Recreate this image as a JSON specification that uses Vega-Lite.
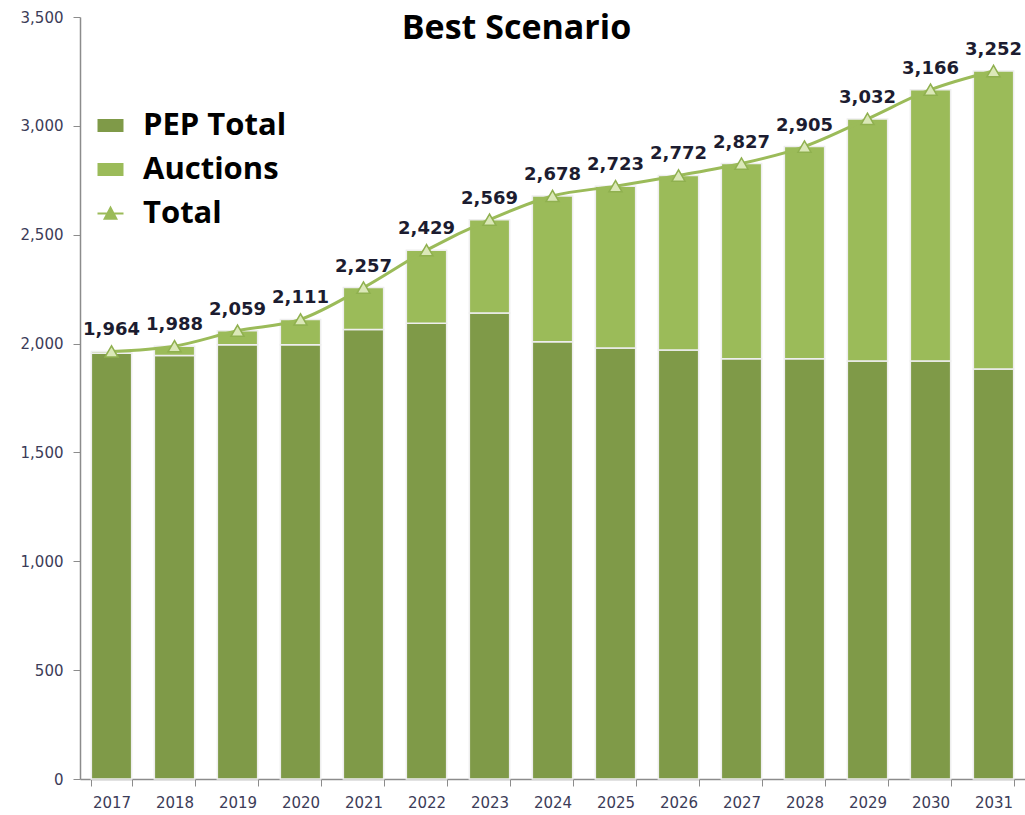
{
  "$schema": "https://vega.github.io/schema/vega-lite/v6.json",
  "width": 945,
  "height": 762,
  "autosize": {"type": "none"},
  "padding": {"left": 80, "top": 17, "right": 0, "bottom": 36},
  "background": "white",
  "config": {
    "view": {"stroke": null},
    "font": "DejaVu Sans",
    "axisY": {
      "grid": false,
      "tickSize": 7,
      "tickColor": "#8c8c8c",
      "domainColor": "#8c8c8c",
      "domainWidth": 1.5,
      "labelPadding": 10,
      "labelFont": "DejaVu Sans",
      "labelFontSize": 15,
      "labelColor": "#3c3c58"
    }
  },
  "title": {
    "text": "Best Scenario",
    "font": "Open Sans",
    "fontSize": 34,
    "fontWeight": "bold",
    "color": "#000000",
    "anchor": "middle",
    "frame": "group",
    "dx": -36,
    "offset": -63,
    "baseline": "alphabetic"
  },
  "data": {
    "values": [
      {"year": "2017", "PEP Total": 1955, "Auctions": 9, "Total": 1964},
      {"year": "2018", "PEP Total": 1945, "Auctions": 43, "Total": 1988},
      {"year": "2019", "PEP Total": 1995, "Auctions": 64, "Total": 2059},
      {"year": "2020", "PEP Total": 1995, "Auctions": 116, "Total": 2111},
      {"year": "2021", "PEP Total": 2065, "Auctions": 192, "Total": 2257},
      {"year": "2022", "PEP Total": 2093, "Auctions": 336, "Total": 2429},
      {"year": "2023", "PEP Total": 2140, "Auctions": 429, "Total": 2569},
      {"year": "2024", "PEP Total": 2008, "Auctions": 670, "Total": 2678},
      {"year": "2025", "PEP Total": 1980, "Auctions": 743, "Total": 2723},
      {"year": "2026", "PEP Total": 1970, "Auctions": 802, "Total": 2772},
      {"year": "2027", "PEP Total": 1930, "Auctions": 897, "Total": 2827},
      {"year": "2028", "PEP Total": 1930, "Auctions": 975, "Total": 2905},
      {"year": "2029", "PEP Total": 1920, "Auctions": 1112, "Total": 3032},
      {"year": "2030", "PEP Total": 1920, "Auctions": 1246, "Total": 3166},
      {"year": "2031", "PEP Total": 1883, "Auctions": 1369, "Total": 3252}
    ]
  },
  "encoding": {
    "x": {
      "field": "year",
      "type": "nominal",
      "scale": {"paddingInner": 0.36, "paddingOuter": 0.18},
      "axis": {
        "title": null,
        "labelAngle": 0,
        "tickBand": "extent",
        "tickSize": 7,
        "tickColor": "#8c8c8c",
        "domainColor": "#8c8c8c",
        "domainWidth": 1.5,
        "labelPadding": 9,
        "labelFont": "DejaVu Sans",
        "labelFontSize": 15,
        "labelColor": "#3c3c58",
        "grid": false
      }
    }
  },
  "layer": [
    {
      "transform": [{"fold": ["PEP Total", "Auctions"], "as": ["series", "value"]}],
      "mark": {"type": "bar", "stroke": "#eeeeee", "strokeWidth": 1.5},
      "encoding": {
        "y": {
          "field": "value",
          "type": "quantitative",
          "stack": "zero",
          "scale": {"domain": [0, 3500], "nice": false},
          "axis": {"title": null, "values": [0, 500, 1000, 1500, 2000, 2500, 3000, 3500], "format": ",d"}
        },
        "color": {
          "field": "series",
          "type": "nominal",
          "scale": {"domain": ["PEP Total", "Auctions", "Total"], "range": ["#7f9a48", "#9bbb59", "#9bbb59"]},
          "legend": {
            "orient": "none",
            "legendX": 15,
            "legendY": 93,
            "title": null,
            "padding": 0,
            "labelFont": "Open Sans",
            "labelFontSize": 31,
            "labelFontWeight": "bold",
            "labelColor": "#000000",
            "labelOffset": 17,
            "labelLimit": 400,
            "rowPadding": 12,
            "symbolSize": 676,
            "symbolType": "M-1,-0.5H1V0.5H-1Z",
            "encoding": {
              "symbols": {
                "shape": {"value": {"signal": "datum.value === 'Total' ? 'M-1,0H1M-0.45,0.4L0,-0.45L0.45,0.4Z' : 'M-1,-0.5H1V0.5H-1Z'"}},
                "fill": {"value": {"signal": "datum.value === 'Total' ? '#dbe8b8' : (datum.value === 'Auctions' ? '#9bbb59' : '#7f9a48')"}},
                "stroke": {"value": {"signal": "datum.value === 'Total' ? '#9bbb59' : 'transparent'"}},
                "strokeWidth": {"value": 2},
                "opacity": {"value": 1}
              }
            }
          }
        },
        "order": {"field": "series", "sort": "descending"}
      }
    },
    {
      "mark": {"type": "line", "interpolate": "monotone", "strokeWidth": 3, "color": "#9bbb59"},
      "encoding": {"y": {"field": "Total", "type": "quantitative", "axis": {"title": null, "values": [0, 500, 1000, 1500, 2000, 2500, 3000, 3500], "format": ",d"}}}
    },
    {
      "mark": {"type": "point", "shape": "triangle-up", "filled": true, "fill": "#dbe8b8", "stroke": "#8fb04f", "strokeWidth": 1.5, "size": 170, "opacity": 1},
      "encoding": {"y": {"field": "Total", "type": "quantitative", "axis": {"title": null, "values": [0, 500, 1000, 1500, 2000, 2500, 3000, 3500], "format": ",d"}}}
    },
    {
      "mark": {"type": "text", "dy": -16, "baseline": "alphabetic", "font": "DejaVu Sans", "fontWeight": "bold", "fontSize": 18, "color": "#1c1c30"},
      "encoding": {
        "y": {"field": "Total", "type": "quantitative", "axis": {"title": null, "values": [0, 500, 1000, 1500, 2000, 2500, 3000, 3500], "format": ",d"}},
        "text": {"field": "Total", "type": "quantitative", "format": ",d"}
      }
    }
  ]
}
